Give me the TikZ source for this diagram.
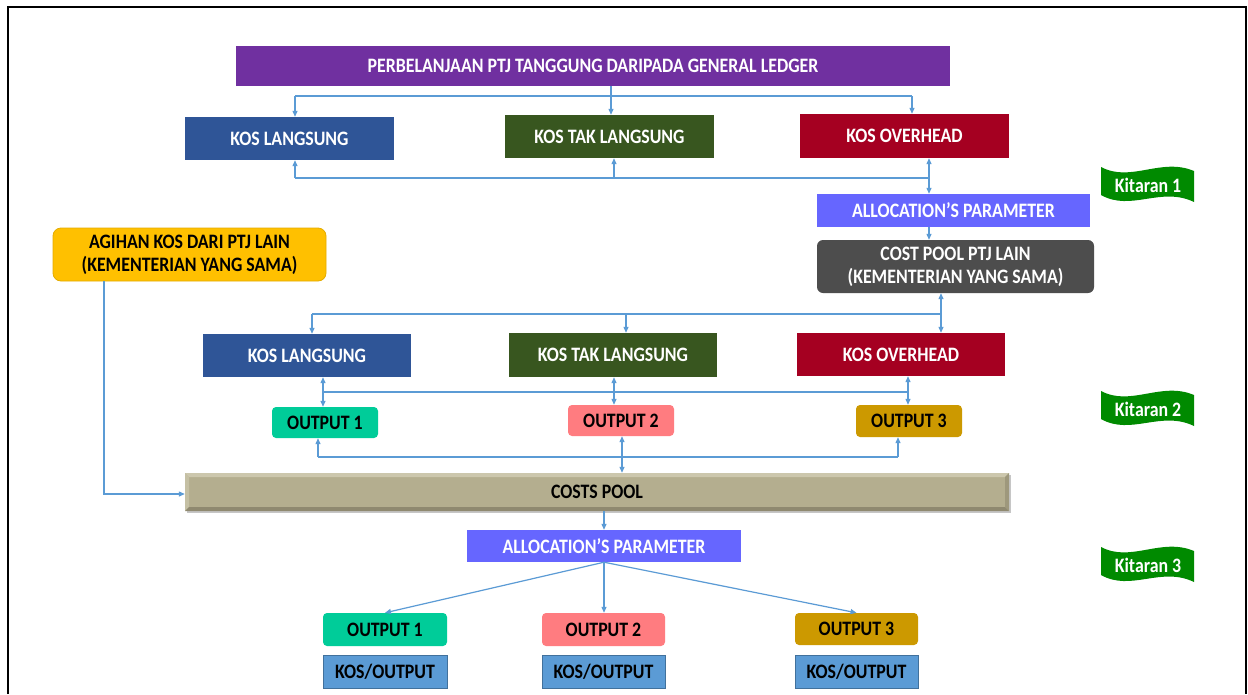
\documentclass[tikz,border=0pt]{standalone}
\usepackage{fontspec}
\setmainfont{Carlito}[FakeStretch=0.87]
\usetikzlibrary{arrows.meta,calc}
\definecolor{cpurple}{HTML}{7030A0}
\definecolor{cblue}{HTML}{2F5597}
\definecolor{cgreen}{HTML}{38561F}
\definecolor{cred}{HTML}{A50021}
\definecolor{cap}{HTML}{6666FF}
\definecolor{cgray}{HTML}{4D4D4D}
\definecolor{cyellow}{HTML}{FFC000}
\definecolor{cyellowb}{HTML}{E3AC00}
\definecolor{cout1}{HTML}{00CC99}
\definecolor{cout2}{HTML}{FF7C80}
\definecolor{cout3}{HTML}{CC9900}
\definecolor{cpool}{HTML}{B4AE8F}
\definecolor{cpoolL}{HTML}{CCC7AD}
\definecolor{cpoolD}{HTML}{8F8970}
\definecolor{ckos}{HTML}{5B9BD5}
\definecolor{ckosb}{HTML}{41719C}
\definecolor{cline}{HTML}{5B9BD5}
\definecolor{cflag}{HTML}{008A00}
\begin{document}
\begin{tikzpicture}[x=1pt,y=-1pt,
  every node/.style={font=\fontsize{20.5}{23}\selectfont\bfseries, inner sep=0pt, align=center},
  bx/.style={draw=none, text=white},
  rbx/.style={rounded corners=6pt},
  ln/.style={draw=cline, line width=1.2pt},
  arr/.style={ln, -{Triangle[length=6pt,width=5pt]}},
  arrb/.style={ln, {Triangle[length=6pt,width=5pt]}-{Triangle[length=6pt,width=5pt]}}]
\useasboundingbox (0,0) rectangle (1248,694);
\fill[white] (0,0) rectangle (1248,694);
% frame
\draw[line width=2pt] (8,694) -- (8,7) -- (1246,7) -- (1246,694);

% row 1
\node[bx, fill=cpurple, minimum width=714pt, minimum height=40pt] (title) at (593,66) {PERBELANJAAN PTJ TANGGUNG DARIPADA GENERAL LEDGER};
\node[bx, fill=cblue, minimum width=209pt, minimum height=43pt] (kl1) at (289.5,138.5) {KOS LANGSUNG};
\node[bx, fill=cgreen, minimum width=209pt, minimum height=43pt] (kt1) at (609.5,136.5) {KOS TAK LANGSUNG};
\node[bx, fill=cred, minimum width=209pt, minimum height=44pt] (ko1) at (904.5,136) {KOS OVERHEAD};
\node[bx, fill=cap, minimum width=273pt, minimum height=33pt] (ap1) at (953.5,210.5) {ALLOCATION’S PARAMETER};
\node[bx, fill=cgray, rbx, minimum width=277pt, minimum height=53pt] (cp1) at (955.5,266.5) {COST POOL PTJ LAIN\\(KEMENTERIAN YANG SAMA)};
\node[fill=cyellow, draw=cyellowb, line width=0.8pt, rounded corners=8pt, minimum width=273pt, minimum height=53pt] (ag) at (189.5,254.5) {AGIHAN KOS DARI PTJ LAIN\\(KEMENTERIAN YANG SAMA)};

% row 2
\node[bx, fill=cblue, minimum width=208pt, minimum height=43pt] (kl2) at (307,355.5) {KOS LANGSUNG};
\node[bx, fill=cgreen, minimum width=208pt, minimum height=44pt] (kt2) at (613,355) {KOS TAK LANGSUNG};
\node[bx, fill=cred, minimum width=208pt, minimum height=43pt] (ko2) at (901,354.5) {KOS OVERHEAD};
\node[fill=cout1, rounded corners=4pt, minimum width=106pt, minimum height=31pt] (o1) at (325,422.5) {OUTPUT 1};
\node[fill=cout2, rounded corners=4pt, minimum width=106pt, minimum height=31pt] (o2) at (621,420.5) {OUTPUT 2};
\node[fill=cout3, rounded corners=4pt, minimum width=106pt, minimum height=32pt] (o3) at (909,421) {OUTPUT 3};

% costs pool with bevel
\fill[gray!45] (187,475) rectangle (1011,513);
\node[fill=cpool, minimum width=824pt, minimum height=38pt] (pool) at (597,492) {};
\fill[cpoolL] (185,473) -- (1009,473) -- (1005,477) -- (189,477) -- cycle;
\fill[cpoolL!70!cpool] (185,473) -- (189,477) -- (189,507) -- (185,511) -- cycle;
\fill[cpoolD] (185,511) -- (1009,511) -- (1005,507) -- (189,507) -- cycle;
\fill[cpoolD!60!cpool] (1009,473) -- (1009,511) -- (1005,507) -- (1005,477) -- cycle;
\node at (pool.center) {COSTS POOL};

\node[bx, fill=cap, minimum width=274pt, minimum height=32pt] (ap2) at (604,546) {ALLOCATION’S PARAMETER};
\node[fill=cout1, rounded corners=4pt, minimum width=124pt, minimum height=33pt] (p1) at (385,629.5) {OUTPUT 1};
\node[fill=cout2, rounded corners=4pt, minimum width=123pt, minimum height=33pt] (p2) at (603.5,629.5) {OUTPUT 2};
\node[fill=cout3, rounded corners=4pt, minimum width=123pt, minimum height=32pt] (p3) at (856.5,629) {OUTPUT 3};
\node[fill=ckos, draw=ckosb, line width=0.8pt, minimum width=124pt, minimum height=33pt] (k1) at (385,671.5) {KOS/OUTPUT};
\node[fill=ckos, draw=ckosb, line width=0.8pt, minimum width=123pt, minimum height=33pt] (k2) at (603.5,671.5) {KOS/OUTPUT};
\node[fill=ckos, draw=ckosb, line width=0.8pt, minimum width=123pt, minimum height=33pt] (k3) at (856.5,671.5) {KOS/OUTPUT};

% flags
\foreach \fy/\fn in {167/1, 391/2, 547/3}{
  \fill[cflag] (1101,\fy) .. controls (1131,\fy+16) and (1161,\fy-10) .. (1194,\fy+4)
    -- (1194,\fy+35) .. controls (1161,\fy+19) and (1131,\fy+45) .. (1101,\fy+28) -- cycle;
  \node[text=white] (kit\fn) at (1148,\fy+18) {Kitaran \fn};
}

% connectors row 1 top
\coordinate (t0) at (611,96);
\coordinate (tL) at (295,96);
\coordinate (tR) at (912,96);
\draw[arr] (t0 |- title.south) -- (t0 |- kt1.north);
\draw[ln] (tL) -- (tR);
\draw[arr] (tL) -- (tL |- kl1.north);
\draw[arr] (tR) -- (tR |- ko1.north);
% row 1 bottom
\coordinate (bL) at (295,178);
\coordinate (bM) at (614,178);
\coordinate (bR) at (929,178);
\draw[ln] (bL) -- (bR);
\draw[arr] (bL) -- (bL |- kl1.south);
\draw[arr] (bM) -- (bM |- kt1.south);
\draw[arr] (bR) -- (bR |- ko1.south);
\draw[arr] (bR) -- (bR |- ap1.north);
\draw[arr] (bR |- ap1.south) -- (bR |- cp1.north);
% row 2 top
\coordinate (cL) at (312,314);
\coordinate (cM) at (626,314);
\coordinate (cR) at (941,314);
\draw[ln] (cL) -- (cR);
\draw[arrb] (cR |- cp1.south) -- (cR |- ko2.north);
\draw[arr] (cL) -- (cL |- kl2.north);
\draw[arr] (cM) -- (cM |- kt2.north);
% row 2 bottom
\coordinate (dL) at (323,392);
\coordinate (dM) at (614,392);
\coordinate (dR) at (908,392);
\draw[ln] (dL) -- (dR);
\draw[arrb] (dL |- kl2.south) -- (dL |- o1.north);
\draw[arrb] (dM |- kt2.south) -- (dM |- o2.north);
\draw[arrb] (dR |- ko2.south) -- (dR |- o3.north);
% outputs bottom
\coordinate (eL) at (318,457);
\coordinate (eM) at (622,457);
\coordinate (eR) at (898,457);
\draw[ln] (eL) -- (eR);
\draw[arr] (eL) -- (eL |- o1.south);
\draw[arr] (eR) -- (eR |- o3.south);
\draw[arrb] (eM |- o2.south) -- (eM |- pool.north);
% agihan
\coordinate (g) at (104,494);
\draw[arr] (g |- ag.south) -- (g) -- (g -| pool.west);
% pool to parameter
\coordinate (f) at (604,520);
\draw[arr] (f |- pool.south) -- (f |- ap2.north);
\draw[arr] (ap2.south) -- (p1.north);
\draw[arr] (ap2.south) -- (ap2.south |- p2.north);
\draw[arr] (ap2.south) -- (p3.north);
\end{tikzpicture}
\end{document}
